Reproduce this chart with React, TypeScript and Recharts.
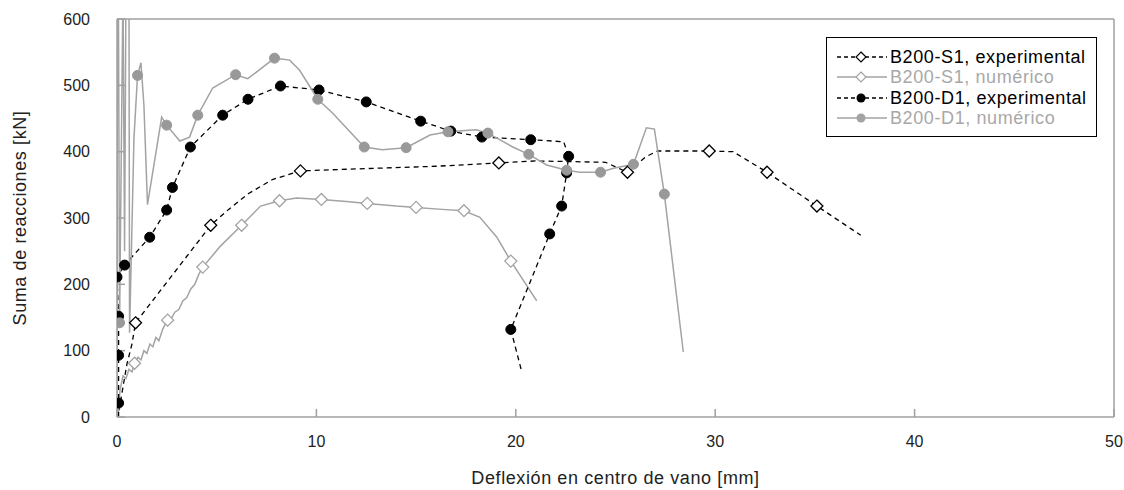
import React from 'react';
import { LineChart, Line, XAxis, YAxis } from 'recharts';

// [deflexión mm, suma de reacciones kN, marcador 1/0]
type Pt = [number, number, number];

const xTicks = [0, 10, 20, 30, 40, 50];
const yTicks = [0, 100, 200, 300, 400, 500, 600];

const seriesNames = [
  'B200-S1, experimental',
  'B200-S1, numérico',
  'B200-D1, experimental',
  'B200-D1, numérico',
];

const s1Exp: Pt[] = [
  [0.1, 10, 0], [0.5, 80, 0], [0.75, 110, 0], [0.93, 142, 1], [4.7, 289, 1],
  [5.6, 313, 0], [6.6, 337, 0], [7.8, 358, 0], [9.2, 371, 1], [12, 374, 0],
  [16, 378, 0], [19.15, 383, 1], [21, 386, 0], [24.5, 384, 0], [25.6, 369, 1],
  [26.5, 392, 0], [27.1, 401, 0], [29.7, 401, 1], [30.9, 400, 0], [32.6, 369, 1],
  [35.1, 318, 1], [37.3, 274, 0],
];

const s1Num: Pt[] = [
  [0.05, 0, 0], [0.15, 40, 0], [0.3, 62, 0], [0.45, 58, 0], [0.6, 72, 0],
  [0.75, 68, 0], [0.88, 81, 1], [1.05, 90, 0], [1.2, 86, 0], [1.35, 100, 0],
  [1.5, 96, 0], [1.65, 110, 0], [1.8, 106, 0], [1.95, 120, 0], [2.1, 115, 0],
  [2.3, 133, 0], [2.54, 146, 1], [2.75, 150, 0], [2.9, 158, 0], [3.1, 162, 0],
  [3.3, 175, 0], [3.5, 180, 0], [3.7, 193, 0], [3.9, 200, 0], [4.1, 215, 0],
  [4.3, 226, 1], [5.2, 258, 0], [6.25, 289, 1], [7.2, 318, 0], [8.15, 326, 1],
  [9.0, 330, 0], [10.25, 328, 1], [11.5, 325, 0], [12.55, 322, 1], [14, 318, 0],
  [15.0, 316, 1], [16.3, 313, 0], [17.4, 311, 1], [18.2, 301, 0], [19.05, 271, 0],
  [19.75, 235, 1], [21.05, 175, 0],
];

const d1Exp: Pt[] = [
  [0.08, 0, 0], [0.08, 21, 1], [0.08, 93, 1], [0.08, 152, 1], [0.0, 211, 1],
  [0.38, 229, 1], [1.64, 271, 1], [2.49, 312, 1], [2.78, 346, 1], [3.68, 407, 1],
  [5.3, 455, 1], [6.57, 479, 1], [8.2, 499, 1], [10.13, 493, 1], [12.5, 475, 1],
  [15.23, 446, 1], [16.74, 431, 1], [18.3, 422, 1], [20.75, 418, 1], [22.4, 415, 0],
  [22.65, 393, 1], [22.55, 368, 1], [22.3, 318, 1], [21.7, 276, 1], [19.75, 132, 1],
  [20.3, 68, 0],
];

const d1Num: Pt[] = [
  [0, 0, 0], [0.02, 650, 0], [0.07, 650, 0], [0.13, 142, 1], [0.3, 650, 0],
  [0.38, 250, 0], [0.45, 650, 0], [0.6, 650, 0], [0.63, 127, 0], [0.85, 420, 0],
  [1.03, 515, 1], [1.2, 534, 0], [1.35, 470, 0], [1.53, 320, 0], [2.24, 452, 0],
  [2.49, 440, 1], [3.15, 416, 0], [3.64, 422, 0], [4.05, 455, 1], [4.8, 496, 0],
  [5.95, 516, 1], [6.56, 510, 0], [7.9, 541, 1], [8.66, 538, 0], [9.15, 523, 0],
  [10.07, 479, 1], [10.82, 458, 0], [12.4, 407, 1], [13.3, 403, 0], [14.5, 406, 1],
  [15.7, 425, 0], [16.6, 430, 1], [18.0, 433, 0], [18.6, 428, 1], [19.85, 407, 0],
  [20.65, 396, 1], [21.55, 380, 0], [22.55, 372, 1], [23.2, 369, 0], [24.25, 369, 1],
  [24.9, 375, 0], [25.9, 381, 1], [26.55, 436, 0], [26.95, 434, 0], [27.45, 336, 1],
  [28.4, 98, 0],
];

const toRows = (pts: Pt[]) => pts.map(([x, y, m]) => ({ x, y, m }));

const GRAY = '#a3a3a3';
const AXIS = '#a0a0a0';
const FONT = '"Liberation Sans", Arial, sans-serif';

const diamondPath = (cx: number, cy: number, r: number) =>
  `M${cx},${cy - r}L${cx + r},${cy}L${cx},${cy + r}L${cx - r},${cy}Z`;

const diamondDot = (stroke: string) => (p: any) => {
  const { cx, cy, payload, index } = p;
  if (!payload || !payload.m || cx == null || cy == null) return <g key={index} />;
  return <path key={index} d={diamondPath(cx, cy, 6)} fill="#fff" stroke={stroke} strokeWidth={1.3} />;
};

const circleDot = (fill: string) => (p: any) => {
  const { cx, cy, payload, index } = p;
  if (!payload || !payload.m || cx == null || cy == null) return <g key={index} />;
  return <circle key={index} cx={cx} cy={cy} r={5} fill={fill} stroke={fill} />;
};

const legendItems = [
  { name: seriesNames[0], color: '#000', text: '#000', dash: '4 3', marker: 'diamond' },
  { name: seriesNames[1], color: GRAY, text: '#a8a8a8', dash: undefined, marker: 'diamond' },
  { name: seriesNames[2], color: '#000', text: '#000', dash: '4 3', marker: 'circle' },
  { name: seriesNames[3], color: GRAY, text: '#a8a8a8', dash: undefined, marker: 'circle' },
];

const ChartLegend = () => (
  <div
    style={{
      position: 'absolute', left: 826, top: 37, width: 271, height: 100,
      border: '1.5px solid #000', boxSizing: 'border-box', background: '#fff',
      fontFamily: FONT,
    }}
  >
    {legendItems.map((it, i) => (
      <div key={it.name} style={{ position: 'absolute', left: 9, top: 9 + i * 20.3, height: 20, display: 'flex', alignItems: 'center' }}>
        <svg width={52} height={20}>
          <line x1={1} y1={10} x2={51} y2={10} stroke={it.color} strokeWidth={1.3} strokeDasharray={it.dash} />
          {it.marker === 'diamond' ? (
            <path d={diamondPath(25, 10, 5)} fill="#fff" stroke={it.color} strokeWidth={1.2} />
          ) : (
            <circle cx={25} cy={10} r={4.5} fill={it.color} />
          )}
        </svg>
        <span style={{ marginLeft: 2, fontSize: 18, letterSpacing: 0.6, color: it.text, lineHeight: '20px', whiteSpace: 'nowrap' }}>
          {it.name}
        </span>
      </div>
    ))}
  </div>
);

export default function App() {
  const tickStyle = { fontSize: 16, fill: '#222', fontFamily: FONT };
  return (
    <div style={{ position: 'absolute', left: 0, top: 0, width: 1124, height: 490, background: '#fff' }}>
      <LineChart
        width={1124}
        height={490}
        margin={{ top: 18, right: 9, bottom: 0, left: 0 }}
        style={{ fontFamily: FONT }}
      >
        <XAxis
          dataKey="x"
          type="number"
          domain={[0, 50]}
          ticks={xTicks}
          height={73}
          tickSize={-8}
          tickMargin={27}
          tick={tickStyle}
          stroke={AXIS}
          strokeWidth={1.5}
          allowDataOverflow
          label={{
            value: 'Deflexión en centro de vano [mm]', position: 'insideBottom', offset: 6,
            style: { fontSize: 18, letterSpacing: 0.6, fill: '#222', fontFamily: FONT },
          }}
        />
        <XAxis
          xAxisId="top"
          orientation="top"
          type="number"
          domain={[0, 50]}
          ticks={xTicks}
          height={1}
          tickSize={-8}
          tick={false}
          stroke={AXIS}
          strokeWidth={1.5}
        />
        <YAxis
          type="number"
          domain={[0, 600]}
          ticks={yTicks}
          width={117}
          tickSize={-8}
          tickMargin={35}
          tick={tickStyle}
          stroke={AXIS}
          strokeWidth={1.5}
          allowDataOverflow
          label={{
            value: 'Suma de reacciones [kN]', angle: -90, position: 'insideLeft', offset: 20,
            style: { fontSize: 18, letterSpacing: 0.6, fill: '#222', textAnchor: 'middle', fontFamily: FONT },
          }}
        />
        <YAxis
          yAxisId="right"
          orientation="right"
          type="number"
          domain={[0, 600]}
          ticks={yTicks}
          width={1}
          tickSize={-8}
          tick={false}
          stroke={AXIS}
          strokeWidth={1.5}
        />
        <Line
          data={toRows(s1Exp)}
          dataKey="y"
          name={seriesNames[0]}
          type="linear"
          stroke="#000"
          strokeWidth={1.3}
          strokeDasharray="5 4"
          dot={diamondDot('#000')}
          activeDot={false}
          isAnimationActive={false}
        />
        <Line
          data={toRows(s1Num)}
          dataKey="y"
          name={seriesNames[1]}
          type="linear"
          stroke={GRAY}
          strokeWidth={1.5}
          dot={diamondDot(GRAY)}
          activeDot={false}
          isAnimationActive={false}
        />
        <Line
          data={toRows(d1Exp)}
          dataKey="y"
          name={seriesNames[2]}
          type="linear"
          stroke="#000"
          strokeWidth={1.3}
          strokeDasharray="5 4"
          dot={circleDot('#000')}
          activeDot={false}
          isAnimationActive={false}
        />
        <Line
          data={toRows(d1Num)}
          dataKey="y"
          name={seriesNames[3]}
          type="linear"
          stroke={GRAY}
          strokeWidth={1.5}
          dot={circleDot('#999')}
          activeDot={false}
          isAnimationActive={false}
        />
      </LineChart>
      <ChartLegend />
    </div>
  );
}
